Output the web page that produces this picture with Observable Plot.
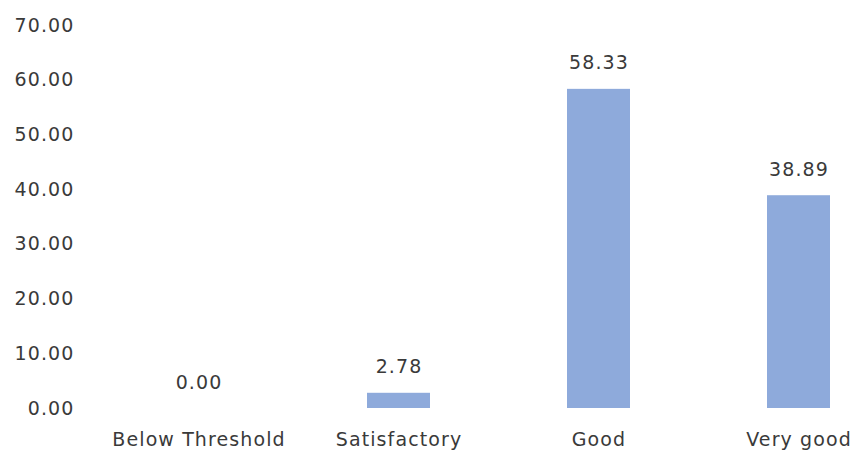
<!DOCTYPE html>
<html><head><meta charset="utf-8">
<script src="https://cdn.jsdelivr.net/npm/d3@7"></script>
<script src="https://cdn.jsdelivr.net/npm/@observablehq/plot@0.6"></script>
<style>body{margin:0;background:#fff} #chart svg text{letter-spacing:1.1px}</style>
</head><body><div id="chart"></div>
<script>
const categories = ["Below Threshold", "Satisfactory", "Good", "Very good"];
const values = [0.00, 2.78, 58.33, 38.89];
const yTicks = [0, 10, 20, 30, 40, 50, 60, 70];
const data = categories.map((c, i) => ({category: c, value: values[i]}));
const font = "'DejaVu Sans', sans-serif";
const ink = "#3a3a3a";
const chart = Plot.plot({
  width: 855, height: 459,
  marginLeft: 146, marginRight: 5, marginTop: 25, marginBottom: 51,
  style: {fontFamily: font, fontSize: "19px", color: ink, background: "#fff"},
  x: {domain: categories, paddingInner: 0.685, paddingOuter: 0.1, label: null},
  y: {domain: [0, 70], label: null},
  marks: [
    Plot.axisX({tickSize: 0, tickPadding: 24, fontSize: 19, fill: ink}),
    Plot.axisY({ticks: yTicks, tickSize: 0, tickPadding: 72, tickFormat: d => d.toFixed(2), fontSize: 19, fill: ink}),
    Plot.barY(data, {x: "category", y: "value", fill: "#8eaadb"}),
    Plot.text(data, {x: "category", y: "value", text: d => d.value.toFixed(2), dy: -26, fontSize: 19, fill: ink})
  ]
});
document.getElementById("chart").appendChild(chart);
</script></body></html>
